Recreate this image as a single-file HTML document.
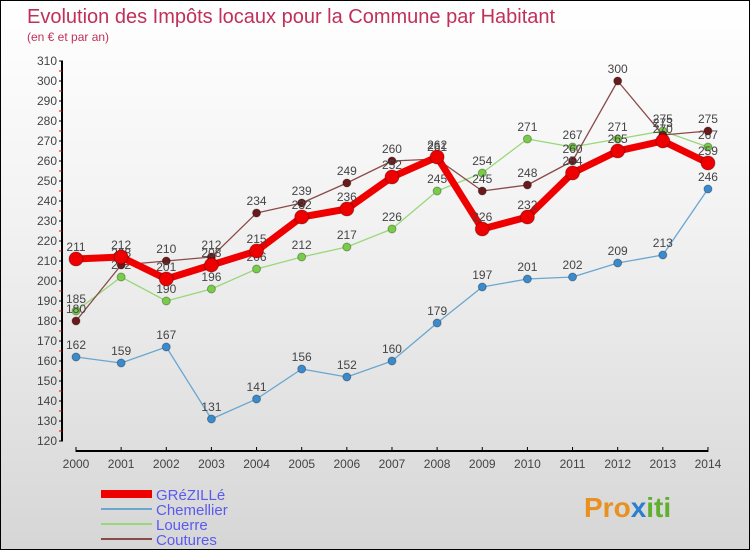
<!DOCTYPE html>
<html><head><meta charset="utf-8"><style>
body{margin:0}
#c{width:748px;height:548px;border:1px solid #000;background:linear-gradient(#fff,#f2f2f2 40%,#d6d6d6);position:relative;overflow:hidden;font-family:"Liberation Sans",sans-serif}
text{font-family:"Liberation Sans",sans-serif}
</style></head><body>
<div id="c">
<svg id="s" width="748" height="548">
<text x="26" y="22" font-size="20" fill="#c0305a">Evolution des Impôts locaux pour la Commune par Habitant</text>
<text x="26" y="40" font-size="12" fill="#c0305a">(en € et par an)</text>
<g id="ax"></g><g id="ser"></g><g id="leg"></g>
<text x="583" y="516" font-size="28" font-weight="bold" fill="#e89020">Pro<tspan fill="#2a7fd0">x</tspan><tspan fill="#5fb030">iti</tspan></text>
</svg></div>
<script>
const years=[2000,2001,2002,2003,2004,2005,2006,2007,2008,2009,2010,2011,2012,2013,2014];
const grezille=[211,212,201,208,215,232,236,252,262,226,232,254,265,270,259];
const chemellier=[162,159,167,131,141,156,152,160,179,197,201,202,209,213,246];
const louerre=[185,202,190,196,206,212,217,226,245,254,271,267,271,275,267];
const coutures=[180,208,210,212,234,239,249,260,261,245,248,260,300,273,275];
const yTicks=[120,130,140,150,160,170,180,190,200,210,220,230,240,250,260,270,280,290,300,310];
const NS="http://www.w3.org/2000/svg";
const X=i=>75+i*45.14, Y=v=>440-(v-120)*2.0;
function mk(t,a,p){const e=document.createElementNS(NS,t);for(const k in a)e.setAttribute(k,a[k]);p.appendChild(e);return e;}
const ax=document.getElementById('ax');
let l=mk('line',{x1:61,y1:Y(310),x2:61,y2:Y(120),stroke:'#000','stroke-width':2},ax);

l=mk('line',{x1:X(0),y1:450,x2:X(14),y2:450,stroke:'#000','stroke-width':2},ax);

yTicks.forEach(v=>{mk('line',{x1:58,y1:Y(v),x2:62,y2:Y(v),stroke:'#000'},ax);
if(v<310)mk('line',{x1:58,y1:Y(v+5),x2:61,y2:Y(v+5),stroke:'#e00'},ax);
const t=mk('text',{x:56,y:Y(v)+4,'font-size':12,'text-anchor':'end',fill:'#444'},ax);t.textContent=v;
});
years.forEach((y,i)=>{mk('line',{x1:X(i),y1:446,x2:X(i),y2:451,stroke:'#000'},ax);
const t=mk('text',{x:X(i),y:467,'font-size':12,'text-anchor':'middle',fill:'#444'},ax);t.textContent=y;
});
const ser=document.getElementById('ser');
function draw(name,data,col,w,r,pcol){
const g=mk('g',{},ser);
mk('polyline',{points:data.map((v,i)=>X(i)+','+Y(v)).join(' '),fill:'none',stroke:col,'stroke-width':w,'stroke-linejoin':'round'},g);
data.forEach((v,i)=>{const c=mk('circle',{cx:X(i),cy:Y(v),r:r,fill:pcol,stroke:'rgba(0,0,0,0.3)'},g);

const t=mk('text',{x:X(i),y:Y(v)-8,'font-size':12,'text-anchor':'middle',fill:'#444'},g);t.textContent=v;
});}
draw('chemellier',chemellier,'#6aa6d0',1.3,4,'#3a8acc');
draw('louerre',louerre,'#98d878',1.3,4,'#78cc48');
draw('coutures',coutures,'#8a4a4a',1.3,4,'#6a1a1a');
draw('grezille',grezille,'#ee0000',7,7,'#ee0000');
const leg=document.getElementById('leg');
[['GRéZILLé','#ee0000',8],['Chemellier','#6aa6d0',2],['Louerre','#98d878',2],['Coutures','#8a4a4a',2]].forEach((d,i)=>{
const y=493+i*15;const g=mk('g',{},leg);
mk('line',{x1:100,y1:y,x2:151,y2:y,stroke:d[1],'stroke-width':d[2]},g);
const t=mk('text',{x:155,y:y+6,'font-size':15,fill:'#5a5af0'},g);t.textContent=d[0];});
</script></body></html>
